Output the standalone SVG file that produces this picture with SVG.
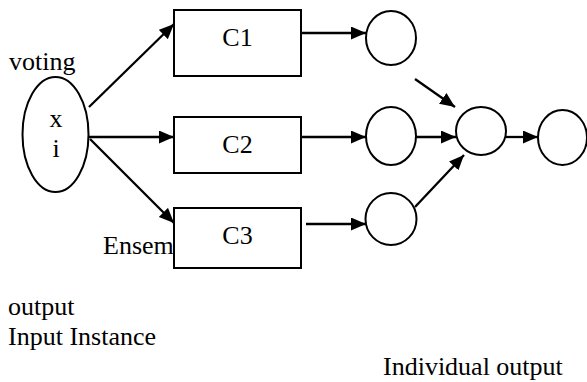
<svg xmlns="http://www.w3.org/2000/svg" width="587" height="382" viewBox="0 0 587 382">
  <style>
    text { font-family: "Liberation Serif", "Times New Roman", "DejaVu Serif", serif; font-size: 26px; fill: #000; }
    .mid { text-anchor: middle; }
    .box { fill: #fff; stroke: #000; stroke-width: 2; }
    .node { fill: #fff; stroke: #000; stroke-width: 2; }
    .edge { fill: none; stroke: #000; stroke-width: 2.3; marker-end: url(#head); }
  </style>
  <defs>
    <marker id="head" markerUnits="userSpaceOnUse" markerWidth="16" markerHeight="14" refX="15" refY="6.5" orient="auto">
      <path d="M0,0 L15,6.5 L0,13 Z" fill="#000"/>
    </marker>
  </defs>

  <rect width="587" height="382" fill="#fff"/>

  <!-- free labels -->
  <text x="9" y="70" font-family="Liberation Serif, serif">voting</text>
  <text x="103" y="254" font-family="Liberation Serif, serif">Ensem</text>
  <text x="8" y="315" font-family="Liberation Serif, serif">output</text>
  <text x="8" y="345" font-family="Liberation Serif, serif">Input Instance</text>
  <text x="383" y="375" font-family="Liberation Serif, serif">Individual output</text>

  <!-- connectors -->
  <g id="connectors">
    <line class="edge" x1="89" y1="107" x2="174" y2="24"/>
    <line class="edge" x1="89" y1="137" x2="174" y2="137"/>
    <line class="edge" x1="90" y1="139" x2="174" y2="223"/>
    <line class="edge" x1="301" y1="33" x2="366" y2="33"/>
    <line class="edge" x1="301" y1="137" x2="366" y2="137"/>
    <line class="edge" x1="306" y1="224" x2="366" y2="224"/>
    <line class="edge" x1="415" y1="79" x2="455" y2="107"/>
    <line class="edge" x1="416" y1="137" x2="456" y2="137"/>
    <line class="edge" x1="415" y1="207" x2="464" y2="155"/>
    <line class="edge" x1="506" y1="137" x2="538" y2="137"/>
  </g>

  <!-- input instance -->
  <g id="input">
    <ellipse class="node" cx="55.5" cy="134.5" rx="33" ry="57.5"/>
    <text class="mid" x="56" y="127" font-family="Liberation Serif, serif">x</text>
    <text class="mid" x="56" y="157" font-family="Liberation Serif, serif">i</text>
  </g>

  <!-- classifiers -->
  <g id="c1">
    <rect class="box" x="174" y="10" width="127" height="66"/>
    <text class="mid" x="237.5" y="46" font-family="Liberation Serif, serif">C1</text>
  </g>
  <g id="c2">
    <rect class="box" x="174" y="117" width="127" height="56"/>
    <text class="mid" x="237.5" y="153" font-family="Liberation Serif, serif">C2</text>
  </g>
  <g id="c3">
    <rect class="box" x="174" y="208" width="127" height="60"/>
    <text class="mid" x="237.5" y="244" font-family="Liberation Serif, serif">C3</text>
  </g>

  <!-- individual outputs -->
  <g id="out1"><ellipse class="node" cx="391" cy="38" rx="25" ry="27"/></g>
  <g id="out2"><ellipse class="node" cx="391" cy="136" rx="25" ry="29"/></g>
  <g id="out3"><ellipse class="node" cx="391" cy="219" rx="25.5" ry="26"/></g>

  <!-- voting and ensemble output -->
  <g id="vote"><ellipse class="node" cx="481" cy="131" rx="25" ry="24"/></g>
  <g id="ensemble"><ellipse class="node" cx="562.5" cy="137.5" rx="24.5" ry="27.5"/></g>
</svg>
